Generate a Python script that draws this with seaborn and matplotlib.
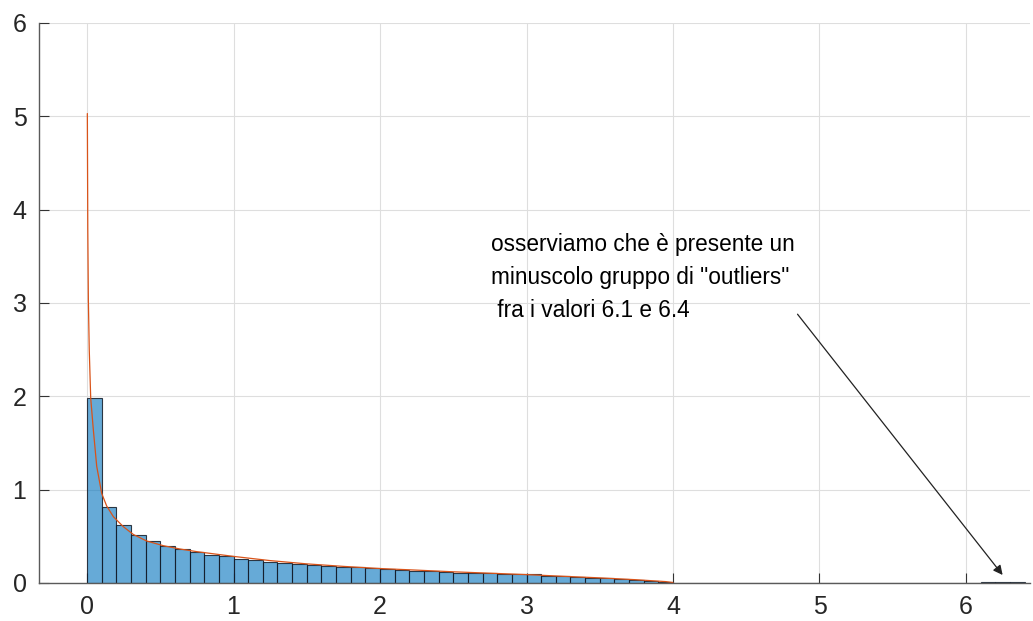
import numpy as np
import pandas as pd
import matplotlib
matplotlib.use("Agg")
import matplotlib.pyplot as plt
import seaborn as sns

# ---- data ----
bin_width = 0.1
bin_start, bin_stop = 0.0, 6.4
bar_heights_0_4 = [1.98, 0.811, 0.618, 0.511, 0.447, 0.397, 0.361, 0.330, 0.297, 0.286,
                   0.260, 0.243, 0.229, 0.218, 0.207, 0.190, 0.182, 0.171, 0.172, 0.164,
                   0.147, 0.143, 0.129, 0.125, 0.121, 0.110, 0.110, 0.104, 0.100, 0.097,
                   0.093, 0.079, 0.079, 0.061, 0.057, 0.050, 0.043, 0.036, 0.025, 0.014]
bar_heights_gap = [0.0] * 21          # bins 4.0 .. 6.1
bar_heights_outliers = [0.006, 0.014, 0.006]   # bins 6.1 .. 6.4
bar_heights = bar_heights_0_4 + bar_heights_gap + bar_heights_outliers

curve_x = [0.002, 0.005, 0.009, 0.015, 0.025, 0.043, 0.066, 0.10, 0.134, 0.18, 0.248,
           0.316, 0.407, 0.52, 0.635, 0.749, 1.0, 1.25, 1.5, 1.75, 2.0, 2.25, 2.5,
           2.75, 3.0, 3.25, 3.5, 3.75, 3.95, 4.0]
curve_y = [5.03, 3.8, 3.03, 2.5, 1.98, 1.64, 1.25, 0.96, 0.825, 0.71, 0.603,
           0.52, 0.45, 0.40, 0.364, 0.336, 0.285, 0.24, 0.205, 0.178, 0.155, 0.138, 0.12,
           0.105, 0.09, 0.072, 0.055, 0.035, 0.015, 0.005]

x_ticks = [0, 1, 2, 3, 4, 5, 6]
y_ticks = [0, 1, 2, 3, 4, 5, 6]

note_text = 'osserviamo che è presente un\nminuscolo gruppo di "outliers"\n fra i valori 6.1 e 6.4'
arrow_start = (4.85, 2.88)
arrow_end = (6.25, 0.086)

# ---- plot ----
sns.set_theme(style="white")
plt.rcParams['font.family'] = ['Liberation Sans', 'DejaVu Sans']

fig = plt.figure(figsize=(10.33, 6.21), dpi=100)
ax = fig.add_axes([39 / 1033, 38 / 621, (1030 - 39) / 1033, (583 - 23) / 621])

n_bins = len(bar_heights)
centers = [bin_start + bin_width * (i + 0.5) for i in range(n_bins)]
df = pd.DataFrame({"x": centers, "w": bar_heights})
sns.histplot(data=df, x="x", weights="w", binwidth=bin_width,
             binrange=(bin_start, bin_stop), stat="count",
             color=(0.0, 0.447, 0.741), alpha=0.6, linewidth=0.8, ax=ax)
for p in ax.patches:
    p.set_facecolor((0.0, 0.447, 0.741, 0.6))
    p.set_edgecolor((0.08, 0.1, 0.15, 0.85))

sns.lineplot(x=curve_x, y=curve_y, color=(0.85, 0.325, 0.098), linewidth=0.9,
             sort=False, ax=ax)

ax.set_xlim(-0.328, 6.437)
ax.set_ylim(0, 6)
ax.set_xticks(x_ticks)
ax.set_yticks(y_ticks)
ax.set_xticklabels([str(t) for t in x_ticks])
ax.set_yticklabels([str(t) for t in y_ticks])
ax.set_xlabel("")
ax.set_ylabel("")

ax.grid(True, color=(0.87, 0.87, 0.87), linewidth=0.8)
ax.set_axisbelow(True)
for s in ["top", "right"]:
    ax.spines[s].set_visible(False)
for s in ["left", "bottom"]:
    ax.spines[s].set_color("#5a5a5a")
    ax.spines[s].set_linewidth(1.0)
ax.tick_params(axis="both", which="major", bottom=True, left=True,
               direction="in", length=7, width=0.8, color="#333333",
               labelsize=18, labelcolor="#262626")
ax.tick_params(axis="y", pad=9)
ax.tick_params(axis="x", pad=9)

ax.text(2.76, 3.27, note_text, fontsize=16.3, ha="left", va="center",
        linespacing=1.55, color="black")
ax.annotate("", xy=arrow_end, xytext=arrow_start,
            arrowprops=dict(arrowstyle="-|>", color="#222222", lw=0.9,
                            mutation_scale=14, shrinkA=0, shrinkB=0))

fig.savefig("out.png", dpi=100)
